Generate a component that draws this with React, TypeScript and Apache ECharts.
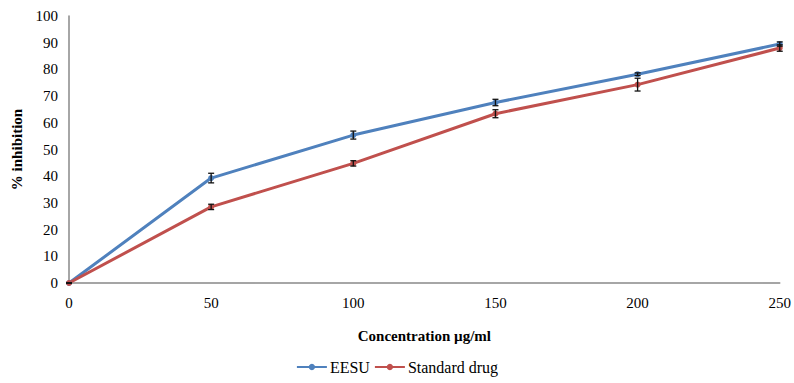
import React, { useEffect, useRef } from "react";
import * as echarts from "echarts";

const concentrations = [0, 50, 100, 150, 200, 250];
const eesuValues = [0, 39.3, 55.4, 67.6, 78.2, 89.5];
const eesuErrors = [0, 1.8, 1.5, 1.2, 0.5, 0.8];
const stdValues = [0, 28.5, 44.8, 63.4, 74.3, 88.0];
const stdErrors = [0, 1.0, 1.0, 1.5, 2.4, 1.2];
const seriesNames = ["EESU", "Standard drug"];
const colors = ["#4F81BD", "#C0504D"];

const FONT = "Liberation Serif";

function errorSeries(name: string, values: number[], errs: number[]) {
  const data = concentrations.map((c, i) => [c, values[i] - errs[i], values[i] + errs[i]]);
  return {
    name: name + " err",
    type: "custom",
    z: 5,
    silent: true,
    data,
    renderItem: (params: any, api: any) => {
      const x = api.value(0);
      const lo = api.coord([x, api.value(1)]);
      const hi = api.coord([x, api.value(2)]);
      const w = 3;
      const style = { stroke: "#111", lineWidth: 1.3 };
      return {
        type: "group",
        children: [
          { type: "line", shape: { x1: lo[0], y1: lo[1], x2: hi[0], y2: hi[1] }, style },
          { type: "line", shape: { x1: lo[0] - w, y1: lo[1], x2: lo[0] + w, y2: lo[1] }, style },
          { type: "line", shape: { x1: hi[0] - w, y1: hi[1], x2: hi[0] + w, y2: hi[1] }, style },
        ],
      };
    },
  };
}

export default function App() {
  const ref = useRef<HTMLDivElement>(null);
  useEffect(() => {
    if (!ref.current) return;
    const chart = echarts.init(ref.current, undefined, { renderer: "svg" });
    const lineSeries = [eesuValues, stdValues].map((vals, k) => ({
      name: seriesNames[k],
      type: "line",
      data: concentrations.map((c, i) => [c, vals[i]]),
      symbol: "circle",
      symbolSize: 6,
      lineStyle: { width: 3, color: colors[k] },
      itemStyle: { color: colors[k] },
      z: 3,
    }));
    chart.setOption({
      animation: false,
      textStyle: { fontFamily: FONT },
      grid: { left: 69, right: 13, top: 16, bottom: 100, containLabel: false },
      legend: {
        data: seriesNames,
        bottom: 3,
        left: "center",
        itemWidth: 30,
        itemHeight: 8,
        itemGap: 4,
        textStyle: { fontFamily: FONT, fontSize: 16, color: "#000", padding: [0, 0, 0, -2] },
      },
      xAxis: {
        type: "value",
        min: 0,
        max: 250,
        interval: 50,
        name: "Concentration µg/ml",
        nameLocation: "middle",
        nameGap: 45,
        nameTextStyle: { fontFamily: FONT, fontSize: 15, fontWeight: "bold", color: "#000" },
        axisLine: { lineStyle: { color: "#888", width: 1.5 } },
        axisTick: { show: false },
        splitLine: { show: false },
        axisLabel: { fontFamily: FONT, fontSize: 15, color: "#000", margin: 12 },
      },
      yAxis: {
        type: "value",
        min: 0,
        max: 100,
        interval: 10,
        name: "% inhibition",
        nameLocation: "middle",
        nameGap: 45,
        nameTextStyle: { fontFamily: FONT, fontSize: 15, fontWeight: "bold", color: "#000" },
        axisLine: { show: true, lineStyle: { color: "#888", width: 1.5 } },
        axisTick: { show: false },
        splitLine: { show: false },
        axisLabel: { fontFamily: FONT, fontSize: 15, color: "#000", margin: 11 },
      },
      series: [
        ...lineSeries,
        errorSeries(seriesNames[0], eesuValues, eesuErrors),
        errorSeries(seriesNames[1], stdValues, stdErrors),
      ],
    });
    return () => chart.dispose();
  }, []);
  return <div ref={ref} style={{ width: 794, height: 383, position: "absolute", left: 0, top: 0 }} />;
}
